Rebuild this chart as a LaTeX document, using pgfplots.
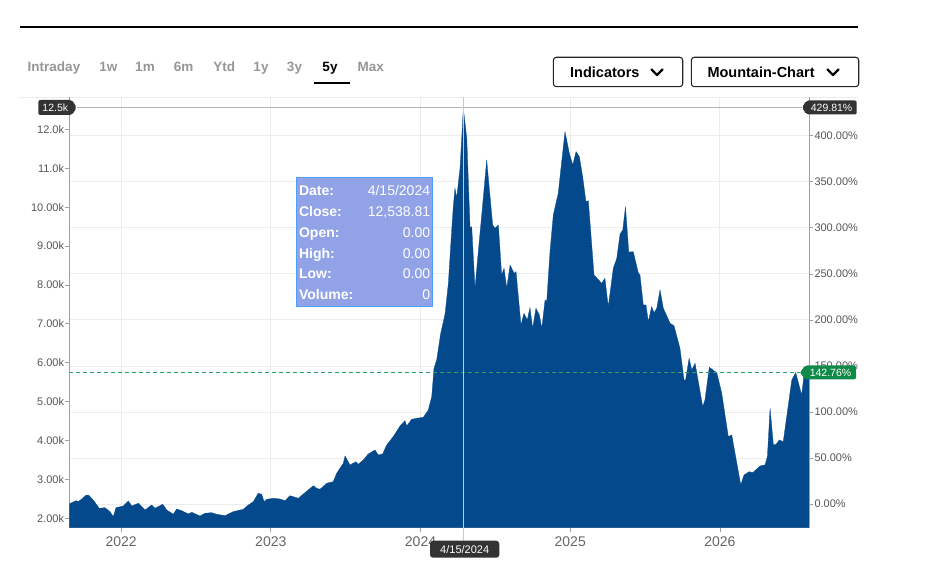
\documentclass[border=0pt]{standalone}
\usepackage{fontspec}
\setmainfont{Liberation Sans}
\usepackage{pgfplots}
\pgfplotsset{compat=1.18}
\definecolor{areablue}{RGB}{4,73,139}
\definecolor{gridgrey}{RGB}{236,236,236}
\definecolor{axisgrey}{RGB}{160,160,160}
\definecolor{labelgrey}{RGB}{85,85,85}
\definecolor{yeargrey}{RGB}{102,102,102}
\definecolor{tabgrey}{RGB}{150,150,150}
\definecolor{tagdark}{RGB}{51,51,51}
\definecolor{taggreen}{RGB}{16,138,72}
\definecolor{dashgreen}{RGB}{46,160,100}
\definecolor{tipfill}{RGB}{145,163,230}
\definecolor{tipborder}{RGB}{80,158,250}
\definecolor{crossgrey}{RGB}{180,180,180}
\definecolor{crosslight}{RGB}{196,202,210}
\newcommand\fs[1]{\fontsize{#1}{#1}\selectfont}
\pgfplotstableread{
year close
2021.654 2368
2021.670 2401
2021.699 2452
2021.714 2427
2021.737 2496
2021.765 2591
2021.781 2599
2021.814 2470
2021.854 2257
2021.892 2273
2021.926 2170
2021.948 2041
2021.966 2273
2022.015 2316
2022.048 2445
2022.071 2316
2022.115 2386
2022.160 2213
2022.204 2342
2022.226 2257
2022.278 2360
2022.305 2213
2022.349 2103
2022.371 2239
2022.405 2195
2022.449 2111
2022.472 2154
2022.527 2059
2022.560 2129
2022.605 2144
2022.639 2103
2022.694 2067
2022.749 2170
2022.816 2231
2022.850 2342
2022.883 2427
2022.916 2643
2022.939 2617
2022.955 2427
2022.973 2489
2023.017 2514
2023.061 2496
2023.095 2452
2023.128 2581
2023.184 2514
2023.228 2658
2023.284 2838
2023.307 2771
2023.329 2746
2023.373 2900
2023.417 2941
2023.440 3157
2023.484 3414
2023.496 3602
2023.529 3370
2023.569 3455
2023.584 3388
2023.618 3499
2023.651 3653
2023.696 3756
2023.718 3627
2023.747 3653
2023.774 3885
2023.818 4098
2023.863 4373
2023.896 4509
2023.908 4373
2023.941 4545
2023.975 4571
2024.019 4597
2024.052 4784
2024.075 5126
2024.090 5856
2024.108 6070
2024.135 6756
2024.164 7253
2024.186 8042
2024.204 9155
2024.219 10011
2024.230 10484
2024.242 10243
2024.264 10999
2024.286 12539
2024.309 11770
2024.331 9456
2024.342 9497
2024.364 7913
2024.386 8854
2024.413 9970
2024.442 11212
2024.482 9541
2024.498 9456
2024.520 9541
2024.542 8255
2024.558 8428
2024.576 7913
2024.598 8512
2024.625 8299
2024.638 8340
2024.671 6970
2024.691 7271
2024.713 7098
2024.731 7415
2024.749 6885
2024.771 7399
2024.794 7227
2024.810 6885
2024.832 7612
2024.843 7569
2024.865 8854
2024.887 9798
2024.920 10356
2024.943 11168
2024.965 11939
2024.994 11384
2025.017 11083
2025.039 11425
2025.061 11297
2025.083 10783
2025.105 10140
2025.121 10166
2025.159 8255
2025.210 8042
2025.232 8170
2025.254 7440
2025.288 8428
2025.311 8685
2025.333 9309
2025.351 9412
2025.369 10011
2025.391 8846
2025.421 8854
2025.455 8307
2025.466 8255
2025.488 7484
2025.506 7484
2025.522 7055
2025.544 7440
2025.560 7286
2025.578 7399
2025.600 7870
2025.622 7399
2025.667 7013
2025.693 6952
2025.733 6371
2025.760 5556
2025.771 5556
2025.794 6114
2025.812 5813
2025.834 5985
2025.885 4869
2025.900 5041
2025.929 5882
2025.979 5743
2026.012 5214
2026.056 4098
2026.079 4142
2026.139 2856
2026.161 3113
2026.196 3198
2026.219 3172
2026.268 3345
2026.301 3370
2026.317 3584
2026.335 4828
2026.357 3885
2026.375 3903
2026.397 4013
2026.423 3969
2026.446 4612
2026.480 5556
2026.506 5743
2026.546 5170
2026.568 5898
2026.580 5882
2026.597 5745
}\closedata
\begin{document}
\begin{tikzpicture}[x=1pt,y=1pt]
\path[use as bounding box] (0,0) rectangle (936,570);
% header rule and top grid line
\draw[line width=1.3pt, black] (20,543) -- (858,543);
\draw[gridgrey, line width=1pt] (19,472.7) -- (858,472.7);
% range tabs
\foreach \t/\x in {Intraday/54, 1w/108.3, 1m/145, 6m/183.7, Ytd/224.2, 1y/261, 3y/294.5, Max/370.8}
  \node[anchor=base, inner sep=0pt, text=tabgrey, font=\fs{13.5}\bfseries] at (\x,498.3) {\t};
\node[anchor=base, inner sep=0pt, text=black, font=\fs{13.5}\bfseries] at (330,498.3) {5y};
\draw[line width=2.2pt] (314,486.7) -- (350,486.7);
% buttons
\draw[line width=1.1pt, rounded corners=3pt, black!85] (553.3,483.3) rectangle (682.7,512.7);
\draw[line width=1.1pt, rounded corners=3pt, black!85] (691.3,483.3) rectangle (858.7,512.7);
\node[anchor=base west, inner sep=0pt, font=\fs{14.5}\bfseries] at (570,492.3) {Indicators};
\node[anchor=base west, inner sep=0pt, font=\fs{14.5}\bfseries] at (707.3,492.3) {Mountain-Chart};
\draw[line width=2.3pt, line cap=round, line join=round] (651.5,500.5) -- (657,495) -- (662.5,500.5);
\draw[line width=2.3pt, line cap=round, line join=round] (827.5,500.5) -- (833,495) -- (838.5,500.5);

% right (percent) axis: horizontal grid
\begin{axis}[
  at={(69.3pt,42.3pt)}, anchor=south west, scale only axis,
  width=740pt, height=430.4pt,
  xmin=2021.654, xmax=2026.597, ymin=-25.716, ymax=441.875,
  axis y line*=right, axis x line=none,
  axis line style={axisgrey, line width=1pt},
  ytick={0,50,100,150,200,250,300,350,400},
  yticklabels={0.00\%,50.00\%,100.00\%,150.00\%,200.00\%,250.00\%,300.00\%,350.00\%,400.00\%},
  scaled y ticks=false,
  ymajorgrids, grid style={gridgrey, line width=0.9pt},
  tick align=outside, major tick length=4pt,
  tick style={axisgrey, line width=0.8pt},
  yticklabel style={font=\fs{11}, text=labelgrey, inner sep=1pt},
]
\addplot[draw=none] coordinates {(2022,0)};
\end{axis}

% main (close) axis
\begin{axis}[
  at={(69.3pt,42.3pt)}, anchor=south west, scale only axis,
  width=740pt, height=430.4pt,
  xmin=2021.654, xmax=2026.597, ymin=1758, ymax=12824,
  axis x line*=bottom, axis y line*=left,
  axis line style={axisgrey, line width=1pt},
  xtick={2022,2023,2024,2025,2026},
  xticklabels={2022,2023,2024,2025,2026},
  ytick={2000,3000,4000,5000,6000,7000,8000,9000,10000,11000,12000},
  yticklabels={2.00k,3.00k,4.00k,5.00k,6.00k,7.00k,8.00k,9.00k,10.00k,11.0k,12.0k},
  scaled y ticks=false, scaled x ticks=false,
  xmajorgrids, grid style={gridgrey, line width=0.9pt},
  tick align=outside, major tick length=4pt,
  tick style={axisgrey, line width=0.8pt},
  xticklabel style={font=\fs{14}, text=yeargrey, yshift=-1.5pt},
  yticklabel style={font=\fs{11}, text=labelgrey, inner sep=1pt},
]
\addplot[fill=areablue, draw=areablue, line width=0.3pt] table[x=year, y=close] {\closedata} \closedcycle;
\draw[dashgreen, line width=0.9pt, dash pattern=on 4pt off 3pt] (axis cs:2021.654,5745) -- (axis cs:2026.597,5745);
\coordinate (vtop) at (axis cs:2024.286,12824);
\coordinate (vbot) at (axis cs:2024.286,1758);
\end{axis}
% right axis line on top
\draw[axisgrey, line width=1pt] (809.3,42.3) -- (809.3,472.7);
% crosshairs
\draw[crossgrey, line width=0.9pt] (76.7,462.5) -- (802,462.5);
\draw[crosslight, line width=1pt] (vtop) -- (vbot) -- ++(0,-13);
% tooltip
\draw[fill=tipfill, draw=tipborder, line width=1.5pt] (296.7,263.3) rectangle (432.7,392.7);
\foreach \l/\v/\yy in {Date:/4\slash 15\slash 2024/374, Close:/{12,538.81}/353, Open:/0.00/332.3, High:/0.00/311.7, Low:/0.00/291, Volume:/0/270}{
  \node[anchor=base west, inner sep=0pt, text=white, font=\fs{14}\bfseries] at (298.9,\yy) {\l};
  \node[anchor=base east, inner sep=0pt, text=white, font=\fs{14}] at (430.3,\yy) {\v};
}
% cover clipped right labels
\fill[white] (859,40) rectangle (936,460);
% tags
\fill[tagdark, rounded corners=2pt] (38.3,455) -- (72,455) -- (76.7,462.5) -- (72,470) -- (38.3,470) -- cycle;
\node[text=white, font=\fs{10.5}, inner sep=0pt] at (55.3,462.5) {12.5k};
\fill[tagdark, rounded corners=2pt] (802,462.5) -- (806.5,469.5) -- (856.7,469.5) -- (856.7,455.5) -- (806.5,455.5) -- cycle;
\node[text=white, font=\fs{10.5}, inner sep=0pt] at (831.6,462.5) {429.81\%};
\fill[taggreen, rounded corners=2pt] (800,197.5) -- (805,204.5) -- (856,204.5) -- (856,190.5) -- (805,190.5) -- cycle;
\node[text=white, font=\fs{10.5}, inner sep=0pt] at (830.5,197.5) {142.76\%};
\fill[tagdark, rounded corners=3pt] (430,12.3) rectangle (499.3,29.3);
\node[text=white, font=\fs{11}, inner sep=0pt] at (464.7,20.8) {4/15/2024};
\end{tikzpicture}
\end{document}
